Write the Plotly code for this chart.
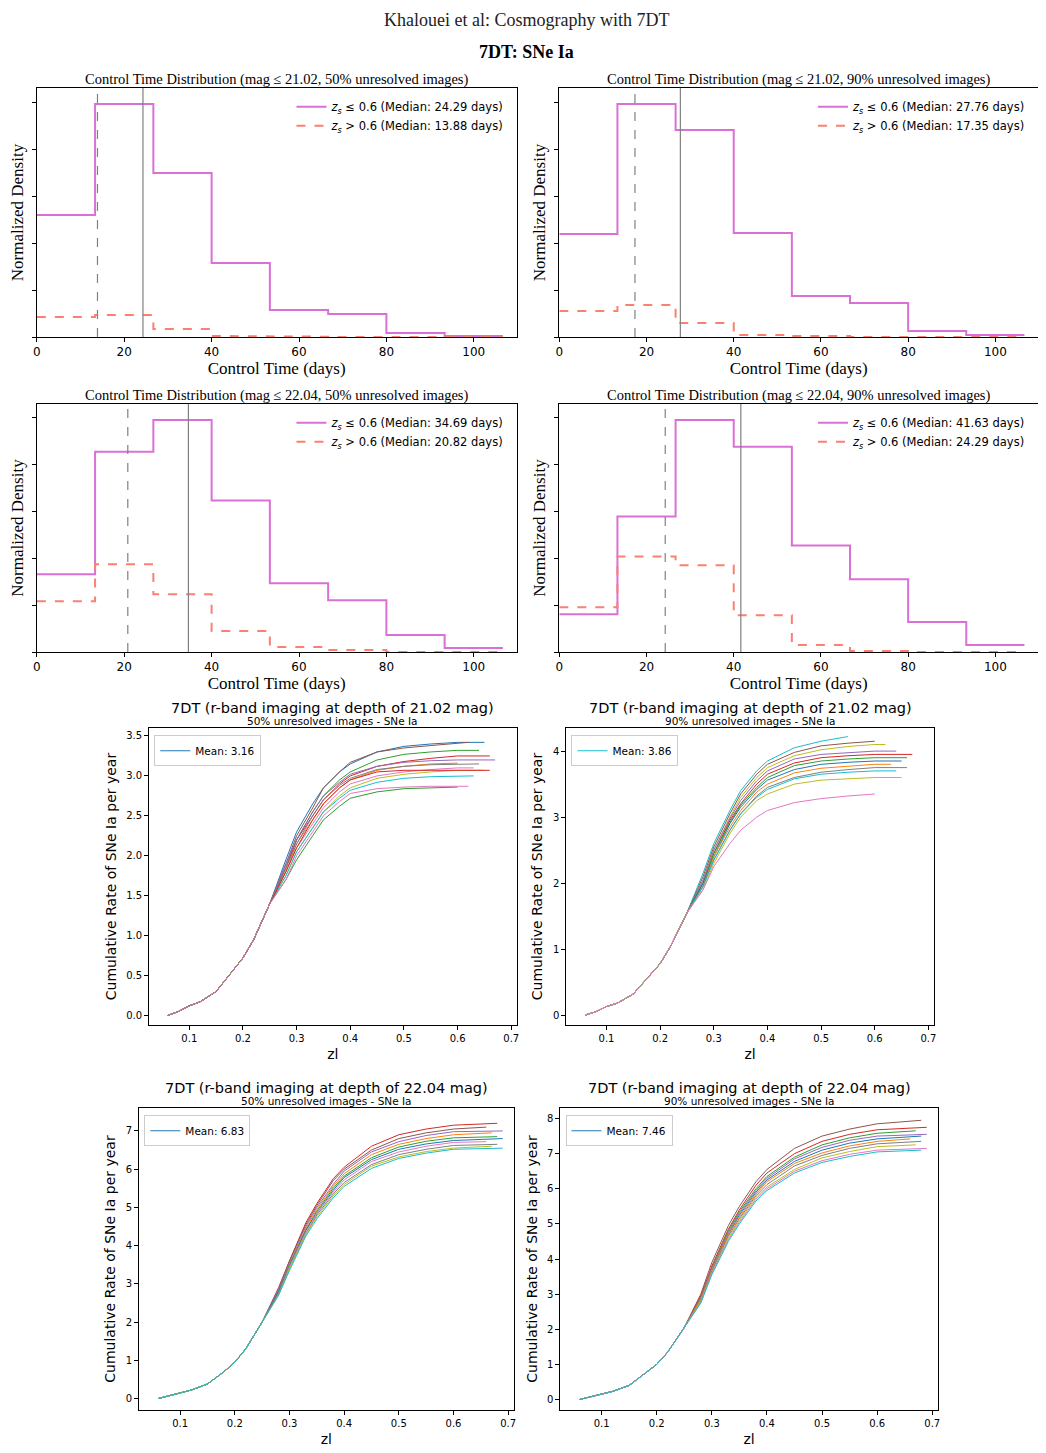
import plotly.graph_objects as go

W, H = 1046, 1453
OX, OY = 8, 8
edges = [0, 13.33, 26.67, 40.0, 53.33, 66.67, 80.0, 93.33, 106.67]
hist_titles = ["Control Time Distribution (mag ≤ 21.02, 50% unresolved images)",
               "Control Time Distribution (mag ≤ 21.02, 90% unresolved images)",
               "Control Time Distribution (mag ≤ 22.04, 50% unresolved images)",
               "Control Time Distribution (mag ≤ 22.04, 90% unresolved images)"]
solid_dens = [[122, 233, 164, 74, 27, 23, 4, 1],
              [103, 233, 207, 104, 41, 34, 6, 2],
              [78, 201, 233, 152, 69, 52, 17, 4],
              [38, 136, 233, 206, 107, 73, 30, 7]]
dash_dens = [[20, 22, 8, 1, 0.3, 0, 0, 0],
             [26, 32, 14, 2, 1, 0, 0, 0],
             [51, 88, 58, 21, 5, 2, 0, 0],
             [45, 96, 87, 37, 7, 1, 0, 0]]
med_low = [24.29, 27.76, 34.69, 41.63]
med_high = [13.88, 17.35, 20.82, 24.29]

line_titles = ["7DT (r-band imaging at depth of 21.02 mag)", "7DT (r-band imaging at depth of 21.02 mag)",
               "7DT (r-band imaging at depth of 22.04 mag)", "7DT (r-band imaging at depth of 22.04 mag)"]
line_sub = ["50% unresolved images - SNe Ia", "90% unresolved images - SNe Ia",
            "50% unresolved images - SNe Ia", "90% unresolved images - SNe Ia"]
means = [3.16, 3.86, 6.83, 7.46]
z_low = [0.06, 0.08, 0.10, 0.12, 0.15, 0.18, 0.20, 0.22, 0.25]
y_low = [[0, 0.05, 0.12, 0.17, 0.30, 0.55, 0.72, 0.95, 1.40],
         [0, 0.05, 0.13, 0.18, 0.32, 0.60, 0.78, 1.05, 1.55],
         [0, 0.08, 0.15, 0.22, 0.38, 0.70, 0.95, 1.30, 2.00],
         [0, 0.08, 0.16, 0.23, 0.40, 0.75, 1.00, 1.35, 2.05]]
z_tail = [0.28, 0.30, 0.33, 0.35, 0.38, 0.40, 0.45, 0.50, 0.55, 0.60]
tails = [
 [("#1f77b4", [1.95,2.3,2.65,2.85,3.05,3.15,3.3,3.37,3.4,3.42,3.42], 0.65),
  ("#8c564b", [1.9,2.25,2.6,2.85,3.05,3.17,3.3,3.35,3.38,3.41,3.42], 0.62),
  ("#2ca02c", [1.85,2.2,2.55,2.75,2.95,3.05,3.2,3.27,3.3,3.32,3.32], 0.64),
  ("#d62728", [1.85,2.2,2.5,2.7,2.9,3.0,3.12,3.18,3.22,3.25,3.25], 0.66),
  ("#9467bd", [1.9,2.2,2.55,2.75,2.92,3.02,3.12,3.17,3.19,3.2,3.2], 0.67),
  ("#ff7f0e", [1.8,2.15,2.45,2.65,2.85,2.95,3.07,3.12,3.15,3.16,3.16], 0.60),
  ("#e377c2", [1.8,2.1,2.4,2.6,2.8,2.9,3.0,3.05,3.08,3.1,3.1], 0.63),
  ("#7f7f7f", [1.85,2.15,2.5,2.7,2.88,2.97,3.08,3.12,3.14,3.15,3.15], 0.64),
  ("#bcbd22", [1.75,2.05,2.35,2.55,2.75,2.85,2.97,3.02,3.05,3.07,3.07], 0.65),
  ("#17becf", [1.75,2.05,2.35,2.55,2.72,2.82,2.92,2.97,2.99,3.0,3.0], 0.63),
  ("#d62728", [1.8,2.1,2.45,2.65,2.85,2.95,3.05,3.07,3.07,3.07,3.07], 0.66),
  ("#2ca02c", [1.7,1.95,2.25,2.45,2.62,2.72,2.8,2.84,2.85,2.86,2.86], 0.60),
  ("#e377c2", [1.7,2.0,2.3,2.5,2.68,2.78,2.84,2.86,2.87,2.87,2.87], 0.62)],
 [("#17becf", [2.15,2.6,3.1,3.4,3.7,3.85,4.05,4.15,4.2,4.22,4.22], 0.55),
  ("#8c564b", [2.1,2.55,3.05,3.35,3.65,3.8,3.98,4.08,4.12,4.15,4.15], 0.60),
  ("#bcbd22", [2.05,2.5,3.0,3.3,3.6,3.75,3.93,4.02,4.07,4.1,4.1], 0.62),
  ("#9467bd", [2.05,2.5,2.98,3.25,3.55,3.7,3.88,3.95,3.98,4.0,4.0], 0.64),
  ("#d62728", [2.0,2.45,2.95,3.2,3.5,3.65,3.82,3.9,3.93,3.95,3.95], 0.67),
  ("#2ca02c", [2.0,2.45,2.92,3.18,3.45,3.6,3.78,3.85,3.88,3.9,3.9], 0.66),
  ("#1f77b4", [2.0,2.4,2.9,3.15,3.42,3.56,3.72,3.8,3.83,3.85,3.85], 0.65),
  ("#ff7f0e", [1.95,2.4,2.85,3.1,3.38,3.5,3.67,3.74,3.77,3.8,3.8], 0.63),
  ("#7f7f7f", [1.95,2.35,2.8,3.05,3.32,3.45,3.6,3.68,3.72,3.75,3.75], 0.66),
  ("#17becf", [1.95,2.35,2.8,3.05,3.3,3.42,3.58,3.65,3.68,3.7,3.7], 0.64),
  ("#bcbd22", [1.9,2.3,2.75,3.0,3.25,3.35,3.5,3.56,3.58,3.6,3.6], 0.65),
  ("#e377c2", [1.9,2.25,2.6,2.8,3.0,3.1,3.22,3.28,3.32,3.35,3.35], 0.60)],
 [("#d62728", [2.9,3.6,4.6,5.1,5.75,6.05,6.6,6.9,7.05,7.15,7.2], 0.68),
  ("#8c564b", [2.85,3.6,4.55,5.05,5.7,6.0,6.5,6.8,6.95,7.05,7.1], 0.66),
  ("#9467bd", [2.85,3.55,4.5,5.0,5.6,5.95,6.45,6.72,6.88,6.98,7.0], 0.69),
  ("#ff7f0e", [2.8,3.5,4.45,4.95,5.55,5.88,6.38,6.65,6.8,6.9,6.95], 0.67),
  ("#2ca02c", [2.8,3.5,4.4,4.9,5.5,5.82,6.3,6.58,6.73,6.82,6.85], 0.68),
  ("#1f77b4", [2.8,3.45,4.4,4.85,5.45,5.78,6.25,6.52,6.66,6.75,6.8], 0.69),
  ("#e377c2", [2.75,3.45,4.35,4.85,5.4,5.72,6.2,6.45,6.6,6.7,6.72], 0.66),
  ("#7f7f7f", [2.75,3.4,4.3,4.8,5.35,5.65,6.12,6.38,6.52,6.62,6.65], 0.68),
  ("#bcbd22", [2.7,3.4,4.3,4.75,5.3,5.6,6.08,6.32,6.46,6.55,6.6], 0.67),
  ("#17becf", [2.7,3.35,4.25,4.7,5.25,5.55,6.02,6.28,6.42,6.52,6.55], 0.69)],
 [("#8c564b", [3.0,3.9,4.95,5.5,6.2,6.55,7.15,7.5,7.7,7.85,7.95], 0.68),
  ("#d62728", [2.95,3.8,4.85,5.4,6.1,6.45,7.0,7.35,7.55,7.68,7.75], 0.69),
  ("#2ca02c", [2.9,3.75,4.8,5.35,6.0,6.35,6.9,7.25,7.45,7.58,7.65], 0.67),
  ("#9467bd", [2.9,3.75,4.75,5.3,5.95,6.3,6.85,7.18,7.38,7.5,7.55], 0.69),
  ("#1f77b4", [2.85,3.7,4.7,5.25,5.9,6.25,6.78,7.1,7.3,7.42,7.5], 0.68),
  ("#ff7f0e", [2.85,3.7,4.7,5.2,5.85,6.2,6.72,7.02,7.22,7.35,7.42], 0.66),
  ("#7f7f7f", [2.8,3.65,4.65,5.15,5.8,6.12,6.65,6.95,7.15,7.28,7.35], 0.68),
  ("#bcbd22", [2.8,3.6,4.6,5.1,5.75,6.05,6.55,6.88,7.06,7.2,7.25], 0.67),
  ("#e377c2", [2.75,3.6,4.55,5.05,5.7,6.0,6.5,6.8,6.98,7.1,7.15], 0.69),
  ("#17becf", [2.75,3.55,4.5,5.0,5.65,5.95,6.45,6.75,6.92,7.05,7.1], 0.68)]]
legend_colors = ["#1f77b4", "#17becf", "#1f77b4", "#1f77b4"]
y_ranges = [[-0.12, 3.6], [-0.15, 4.35], [-0.3, 7.6], [-0.3, 8.3]]
y_dticks = [0.5, 1, 1, 1]

boxes = [(30, 513, 88, 337), (556, 1038, 88, 337), (30, 513, 404, 652), (556, 1038, 404, 652),
         (143, 513, 728, 1025), (563, 933, 728, 1025), (133, 510, 1108, 1410), (557, 937, 1108, 1410)]

fig = go.Figure()
serif = "Liberation Serif"
sans = "DejaVu Sans"

def px(x):
    return (x - OX) / W

def py(y):
    return 1 - (y - OY) / H

def dom(b):
    return [px(b[0] + 3), px(b[1] + 3)], [py(b[3]), py(b[2])]

def step_xy(vals):
    xs, ys = [], []
    for i, v in enumerate(vals):
        xs += [edges[i], edges[i + 1]]
        ys += [v, v]
    return xs, ys

for i in range(8):
    xd, yd = dom(boxes[i])
    k = "" if i == 0 else str(i + 1)
    fig.layout["xaxis" + k] = dict(domain=xd, anchor="y" + k, showgrid=False, zeroline=False,
                                   mirror=True, showline=True, linecolor="black", ticks="outside",
                                   ticklen=4, tickcolor="black")
    fig.layout["yaxis" + k] = dict(domain=yd, anchor="x" + k, showgrid=False, zeroline=False,
                                   mirror=True, showline=True, linecolor="black", ticks="outside",
                                   ticklen=4, tickcolor="black")

for i in range(4):
    k = "" if i == 0 else str(i + 1)
    xs, ys = step_xy(solid_dens[i])
    fig.add_trace(go.Scatter(x=xs, y=ys, mode="lines", line=dict(color="orchid", width=2),
                             name=f"<i>z<sub>s</sub></i> ≤ 0.6 (Median: {med_low[i]:.2f} days)",
                             xaxis="x" + k, yaxis="y" + k, legend="legend" + k))
    xs, ys = step_xy(dash_dens[i])
    fig.add_trace(go.Scatter(x=xs, y=ys, mode="lines", line=dict(color="salmon", width=2, dash="dash"),
                             name=f"<i>z<sub>s</sub></i> > 0.6 (Median: {med_high[i]:.2f} days)",
                             xaxis="x" + k, yaxis="y" + k, legend="legend" + k))
    fig.add_shape(type="line", xref="x" + k, yref=("y" + k) + " domain", x0=med_low[i], x1=med_low[i],
                  y0=0, y1=1, line=dict(color="gray", width=1.2))
    fig.add_shape(type="line", xref="x" + k, yref=("y" + k) + " domain", x0=med_high[i], x1=med_high[i],
                  y0=0, y1=1, line=dict(color="gray", width=1.2, dash="dash"))
    fig.layout["xaxis" + k].update(range=[0, 109.8], dtick=20, tickfont=dict(family=sans, size=12),
                                   title=dict(text="Control Time (days)", font=dict(family=serif, size=17), standoff=0))
    fig.layout["yaxis" + k].update(range=[0, 249], dtick=47, showticklabels=False,
                                   title=dict(text="Normalized Density", font=dict(family=serif, size=17), standoff=4))
    b = boxes[i]
    fig.layout["legend" + k] = dict(x=px(b[1]) - 0.004, y=py(b[2]) - 0.003, xanchor="right", yanchor="top",
                                    bgcolor="rgba(0,0,0,0)", font=dict(family=sans, size=11.5),
                                    tracegroupgap=0, itemwidth=30)
    fig.add_annotation(text=hist_titles[i], xref="paper", yref="paper", x=px((b[0] + b[1]) / 2 + 3),
                       y=py(b[2] + 2), xanchor="center", yanchor="bottom", showarrow=False,
                       font=dict(family=serif, size=14.5))

for j in range(4):
    i = j + 4
    k = str(i + 1)
    for col, tv, zend in tails[j]:
        n = len([z for z in z_tail if z < zend])
        zz = list(z_low) + z_tail[:n] + [zend]
        yy = list(y_low[j]) + tv[:n] + [tv[-1]]
        fig.add_trace(go.Scatter(x=zz, y=yy, mode="lines", line=dict(color=col, width=1),
                                 showlegend=False, xaxis="x" + k, yaxis="y" + k, hoverinfo="skip"))
    fig.add_trace(go.Scatter(x=[None], y=[None], mode="lines", line=dict(color=legend_colors[j], width=1),
                             name=f"Mean: {means[j]:.2f}", xaxis="x" + k, yaxis="y" + k, legend="legend" + k))
    b = boxes[i]
    fig.layout["xaxis" + k].update(range=[0.025, 0.71], dtick=0.1, tick0=0.1, tickformat=".1f",
                                   tickfont=dict(family=sans, size=10),
                                   title=dict(text="zl", font=dict(family=sans, size=14), standoff=6))
    fig.layout["yaxis" + k].update(range=y_ranges[j], dtick=y_dticks[j], tick0=0,
                                   tickformat=".1f" if j == 0 else "d", tickfont=dict(family=sans, size=10),
                                   title=dict(text="Cumulative Rate of SNe Ia per year", font=dict(family=sans, size=14), standoff=6))
    fig.layout["legend" + k] = dict(x=px(b[0] + 3) + 0.005, y=py(b[2]) - 0.005, xanchor="left", yanchor="top",
                                    bgcolor="white", bordercolor="#cccccc", borderwidth=1,
                                    font=dict(family=sans, size=10.5), itemwidth=30)
    cx = px((b[0] + b[1]) / 2 + 3)
    fig.add_annotation(text=line_titles[j], xref="paper", yref="paper", x=cx, y=py(b[2] - 10),
                       xanchor="center", yanchor="bottom", showarrow=False, font=dict(family=sans, size=14.5))
    fig.add_annotation(text=line_sub[j], xref="paper", yref="paper", x=cx, y=py(b[2] + 1),
                       xanchor="center", yanchor="bottom", showarrow=False, font=dict(family=sans, size=10.5))

fig.add_annotation(text="Khalouei et al: Cosmography with 7DT", xref="paper", yref="paper", x=px(526),
                   y=py(20), xanchor="center", yanchor="middle", showarrow=False,
                   font=dict(family=serif, size=18, color="#222"))
fig.add_annotation(text="<b>7DT: SNe Ia</b>", xref="paper", yref="paper", x=px(526),
                   y=py(52), xanchor="center", yanchor="middle", showarrow=False,
                   font=dict(family=serif, size=18))

fig.update_layout(width=W, height=H, margin=dict(l=0, r=0, t=0, b=0), plot_bgcolor="white",
                  paper_bgcolor="white", showlegend=True, font=dict(color="black", family=sans))
fig.write_html("out.html")
